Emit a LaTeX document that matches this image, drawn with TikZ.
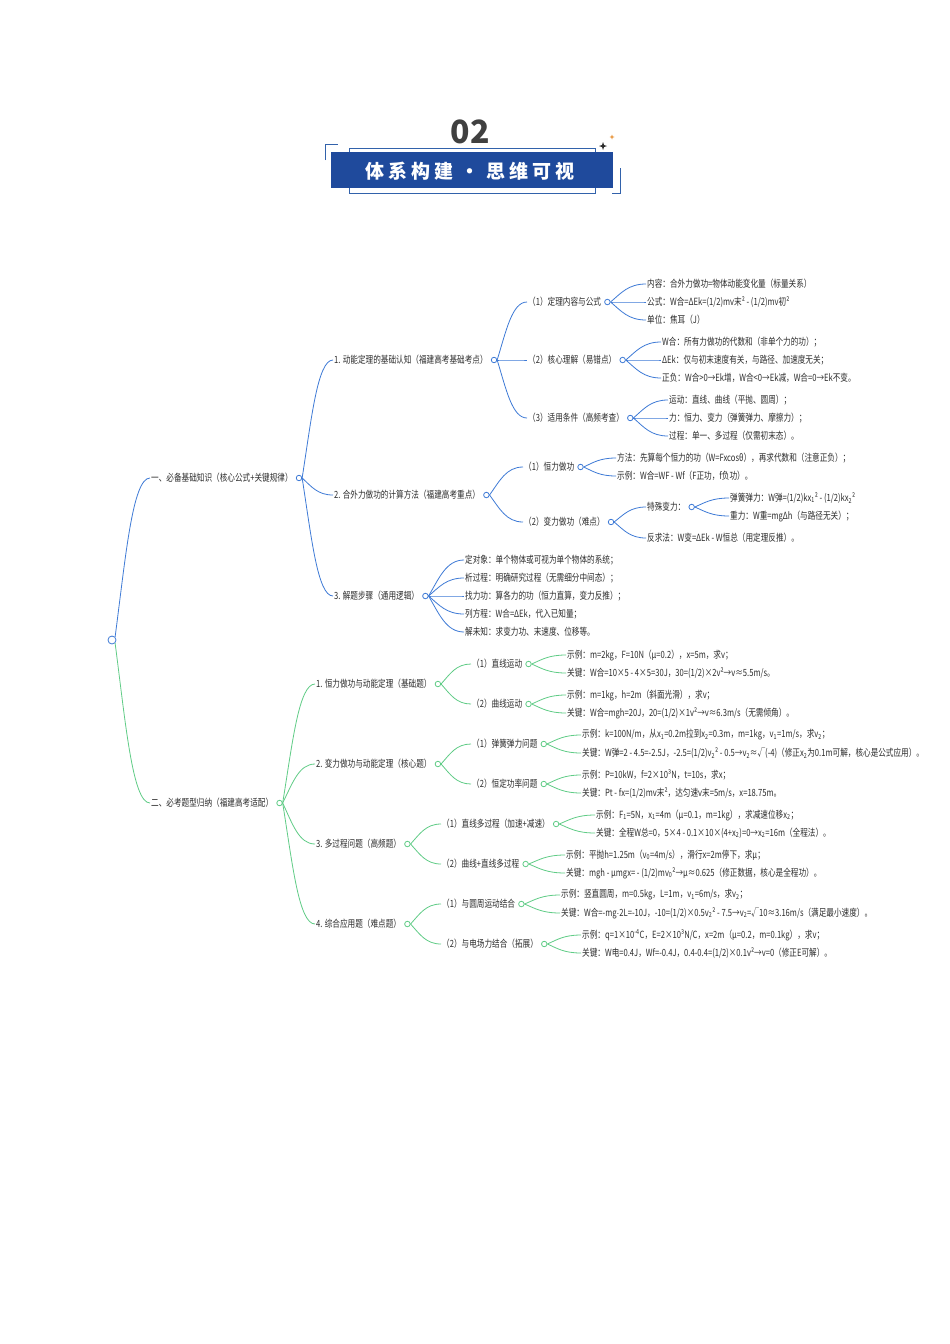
\documentclass[tikz,border=0pt]{standalone}
\usepackage{fontspec}
\setmainfont{Noto Sans CJK SC}[FakeStretch=0.77]
\newfontfamily\headfont{Noto Sans CJK SC}
\usetikzlibrary{positioning,calc}
\definecolor{mapblue}{RGB}{62,122,214}
\definecolor{mapgreen}{RGB}{96,204,134}
\definecolor{bannerblue}{RGB}{31,74,156}
\definecolor{inkgray}{RGB}{45,45,45}
\definecolor{numgray}{RGB}{64,64,64}
\definecolor{sparkorange}{RGB}{232,150,60}
\newcommand\tsub[1]{\textsubscript{#1}}
\newcommand\link[3]{\draw[#1] let \p1=(#2), \p2=(#3) in (\p1) .. controls ({\x1+0.3*(\x2-\x1)},{\y1+0.5*(\y2-\y1)}) and ({\x1+0.5*(\x2-\x1)},\y2) .. (\p2);}
\begin{document}
\begin{tikzpicture}[
  x=1pt, y=-1pt,
  txt/.style={anchor=west, inner sep=1pt, text=inkgray, font=\fontsize{9.9}{11}\selectfont},
  dot/.style={circle, fill=white, line width=0.8pt, inner sep=0pt, minimum size=5.5pt},
  bdot/.style={dot, draw=mapblue},
  gdot/.style={dot, draw=mapgreen},
  bl/.style={mapblue, line width=0.8pt},
  gr/.style={mapgreen, line width=0.8pt}
]
\useasboundingbox[fill=white] (0,0) rectangle (950,1344);

\node[anchor=base, text=numgray, font=\headfont\bfseries\fontsize{32}{34}\selectfont] (num) at (470,143) {02};
\draw[mapblue!80!black, line width=0.7pt] (349,148) rectangle (595,193);
\draw[mapblue!80!black, line width=0.7pt] (325,160) -- (325,144) -- (338,144);
\draw[mapblue!80!black, line width=0.7pt] (620,168) -- (620,193) -- (612,193);
\fill[bannerblue] (331,152) rectangle (613,188);
\node[text=white, font=\headfont\bfseries\fontsize{19}{21}\selectfont] (title) at (470,171)
  {体\hspace{4pt}系\hspace{4pt}构\hspace{4pt}建\hspace{7pt}·\hspace{7pt}思\hspace{4pt}维\hspace{4pt}可\hspace{4pt}视};
\fill[inkgray] (603,142) -- (604,145) -- (607,146) -- (604,147) -- (603,150) -- (602,147) -- (599,146) -- (602,145) -- cycle;
\fill[sparkorange] (612,134.5) -- (612.7,136.3) -- (614.5,137) -- (612.7,137.7) -- (612,139.5) -- (611.3,137.7) -- (609.5,137) -- (611.3,136.3) -- cycle;

\node[dot, draw=mapblue, minimum size=8pt] (root) at (112,640) {};

\node[txt] (know) at (150,478) {一、必备基础知识（核心公式+关键规律）};
\node[bdot, right=2pt of know] (know-o) {};
\node[txt] (exam) at (150,803) {二、必考题型归纳（福建高考适配）};
\node[gdot, right=2pt of exam] (exam-o) {};

\node[txt] (k1) at (333,360) {1. 动能定理的基础认知（福建高考基础考点）};
\node[bdot, right=2pt of k1] (k1-o) {};
\node[txt] (k2) at (333,495) {2. 合外力做功的计算方法（福建高考重点）};
\node[bdot, right=2pt of k2] (k2-o) {};
\node[txt] (k3) at (333,596) {3. 解题步骤（通用逻辑）};
\node[bdot, right=2pt of k3] (k3-o) {};

\node[txt] (k11) at (527,302) {（1）定理内容与公式};
\node[bdot, right=2pt of k11] (k11-o) {};
\node[txt] (k12) at (527,360) {（2）核心理解（易错点）};
\node[bdot, right=2pt of k12] (k12-o) {};
\node[txt] (k13) at (527,418) {（3）适用条件（高频考查）};
\node[bdot, right=2pt of k13] (k13-o) {};

\node[txt] (k11a) at (646,284) {内容：合外力做功=物体动能变化量（标量关系）};
\node[txt] (k11b) at (646,302) {公式：W合=ΔEk=(1/2)mv末² - (1/2)mv初²};
\node[txt] (k11c) at (646,320) {单位：焦耳（J）};
\node[txt] (k12a) at (661,342) {W合：所有力做功的代数和（非单个力的功）；};
\node[txt] (k12b) at (661,360) {ΔEk：仅与初末速度有关，与路径、加速度无关；};
\node[txt] (k12c) at (661,378) {正负：W合>0→Ek增，W合<0→Ek减，W合=0→Ek不变。};
\node[txt] (k13a) at (668,400) {运动：直线、曲线（平抛、圆周）；};
\node[txt] (k13b) at (668,418) {力：恒力、变力（弹簧弹力、摩擦力）；};
\node[txt] (k13c) at (668,436) {过程：单一、多过程（仅需初末态）。};

\node[txt] (k21) at (523,467) {（1）恒力做功};
\node[bdot, right=2pt of k21] (k21-o) {};
\node[txt] (k22) at (523,522) {（2）变力做功（难点）};
\node[bdot, right=2pt of k22] (k22-o) {};
\node[txt] (k21a) at (616,458) {方法：先算每个恒力的功（W=Fxcosθ），再求代数和（注意正负）；};
\node[txt] (k21b) at (616,476) {示例：W合=WF - Wf（F正功，f负功）。};
\node[txt] (k22a) at (646,507) {特殊变力：};
\node[bdot, right=2pt of k22a] (k22a-o) {};
\node[txt] (k22b) at (646,538) {反求法：W变=ΔEk - W恒总（用定理反推）。};
\node[txt] (spring) at (729,498) {弹簧弹力：W弹=(1/2)kx\tsub{1}² - (1/2)kx\tsub{2}²};
\node[txt] (grav) at (729,516) {重力：W重=mgΔh（与路径无关）；};

\node[txt] (k3a) at (464,560) {定对象：单个物体或可视为单个物体的系统；};
\node[txt] (k3b) at (464,578) {析过程：明确研究过程（无需细分中间态）；};
\node[txt] (k3c) at (464,596) {找力功：算各力的功（恒力直算，变力反推）；};
\node[txt] (k3d) at (464,614) {列方程：W合=ΔEk，代入已知量；};
\node[txt] (k3e) at (464,632) {解未知：求变力功、末速度、位移等。};

\node[txt] (g1) at (315,684) {1. 恒力做功与动能定理（基础题）};
\node[gdot, right=2pt of g1] (g1-o) {};
\node[txt] (g2) at (315,764) {2. 变力做功与动能定理（核心题）};
\node[gdot, right=2pt of g2] (g2-o) {};
\node[txt] (g3) at (315,844) {3. 多过程问题（高频题）};
\node[gdot, right=2pt of g3] (g3-o) {};
\node[txt] (g4) at (315,924) {4. 综合应用题（难点题）};
\node[gdot, right=2pt of g4] (g4-o) {};

\node[txt] (g11) at (471,664) {（1）直线运动};
\node[gdot, right=2pt of g11] (g11-o) {};
\node[txt] (g12) at (471,704) {（2）曲线运动};
\node[gdot, right=2pt of g12] (g12-o) {};
\node[txt] (g21) at (471,744) {（1）弹簧弹力问题};
\node[gdot, right=2pt of g21] (g21-o) {};
\node[txt] (g22) at (471,784) {（2）恒定功率问题};
\node[gdot, right=2pt of g22] (g22-o) {};
\node[txt] (g31) at (441,824) {（1）直线多过程（加速+减速）};
\node[gdot, right=2pt of g31] (g31-o) {};
\node[txt] (g32) at (441,864) {（2）曲线+直线多过程};
\node[gdot, right=2pt of g32] (g32-o) {};
\node[txt] (g41) at (441,904) {（1）与圆周运动结合};
\node[gdot, right=2pt of g41] (g41-o) {};
\node[txt] (g42) at (441,944) {（2）与电场力结合（拓展）};
\node[gdot, right=2pt of g42] (g42-o) {};

\node[txt] (g11a) at (566,655) {示例：m=2kg，F=10N（μ=0.2），x=5m，求v；};
\node[txt] (g11b) at (566,673) {关键：W合=10×5 - 4×5=30J，30=(1/2)×2v²→v≈5.5m/s。};
\node[txt] (g12a) at (566,695) {示例：m=1kg，h=2m（斜面光滑），求v；};
\node[txt] (g12b) at (566,713) {关键：W合=mgh=20J，20=(1/2)×1v²→v≈6.3m/s（无需倾角）。};
\node[txt] (g21a) at (581,735) {示例：k=100N/m，从x\tsub{1}=0.2m拉到x\tsub{2}=0.3m，m=1kg，v\tsub{1}=1m/s，求v\tsub{2}；};
\node[txt] (g21b) at (581,753) {关键：W弹=2 - 4.5=-2.5J，-2.5=(1/2)v\tsub{2}² - 0.5→v\tsub{2}≈√(-4)（修正x\tsub{2}为0.1m可解，核心是公式应用）。};
\node[txt] (g22a) at (581,775) {示例：P=10kW，f=2×10³N，t=10s，求x；};
\node[txt] (g22b) at (581,793) {关键：Pt - fx=(1/2)mv末²，达匀速v末=5m/s，x=18.75m。};
\node[txt] (g31a) at (595,815) {示例：F\tsub{1}=5N，x\tsub{1}=4m（μ=0.1，m=1kg），求减速位移x\tsub{2}；};
\node[txt] (g31b) at (595,833) {关键：全程W总=0，5×4 - 0.1×10×(4+x\tsub{2})=0→x\tsub{2}=16m（全程法）。};
\node[txt] (g32a) at (565,855) {示例：平抛h=1.25m（v\tsub{0}=4m/s），滑行x=2m停下，求μ；};
\node[txt] (g32b) at (565,873) {关键：mgh - μmgx= - (1/2)mv\tsub{0}²→μ≈0.625（修正数据，核心是全程功）。};
\node[txt] (g41a) at (560,895) {示例：竖直圆周，m=0.5kg，L=1m，v\tsub{1}=6m/s，求v\tsub{2}；};
\node[txt] (g41b) at (560,913) {关键：W合=-mg$\cdot$2L=-10J，-10=(1/2)×0.5v\tsub{2}² - 7.5→v\tsub{2}=√10≈3.16m/s（满足最小速度）。};
\node[txt] (g42a) at (581,935) {示例：q=1×10\textsuperscript{-4}C，E=2×10³N/C，x=2m（μ=0.2，m=0.1kg），求v；};
\node[txt] (g42b) at (581,953) {关键：W电=0.4J，Wf=-0.4J，0.4-0.4=(1/2)×0.1v²→v=0（修正E可解）。};

\link{bl}{root.north east}{know.west}
\link{gr}{root.south east}{exam.west}
\foreach \c in {k1,k2,k3} {\link{bl}{know-o.east}{\c.west}}
\foreach \c in {k11,k12,k13} {\link{bl}{k1-o.east}{\c.west}}
\foreach \c in {k11a,k11b,k11c} {\link{bl}{k11-o.east}{\c.west}}
\foreach \c in {k12a,k12b,k12c} {\link{bl}{k12-o.east}{\c.west}}
\foreach \c in {k13a,k13b,k13c} {\link{bl}{k13-o.east}{\c.west}}
\foreach \c in {k21,k22} {\link{bl}{k2-o.east}{\c.west}}
\foreach \c in {k21a,k21b} {\link{bl}{k21-o.east}{\c.west}}
\foreach \c in {k22a,k22b} {\link{bl}{k22-o.east}{\c.west}}
\foreach \c in {spring,grav} {\link{bl}{k22a-o.east}{\c.west}}
\foreach \c in {k3a,k3b,k3c,k3d,k3e} {\link{bl}{k3-o.east}{\c.west}}
\foreach \c in {g1,g2,g3,g4} {\link{gr}{exam-o.east}{\c.west}}
\foreach \c in {g11,g12} {\link{gr}{g1-o.east}{\c.west}}
\foreach \c in {g21,g22} {\link{gr}{g2-o.east}{\c.west}}
\foreach \c in {g31,g32} {\link{gr}{g3-o.east}{\c.west}}
\foreach \c in {g41,g42} {\link{gr}{g4-o.east}{\c.west}}
\foreach \c in {g11a,g11b} {\link{gr}{g11-o.east}{\c.west}}
\foreach \c in {g12a,g12b} {\link{gr}{g12-o.east}{\c.west}}
\foreach \c in {g21a,g21b} {\link{gr}{g21-o.east}{\c.west}}
\foreach \c in {g22a,g22b} {\link{gr}{g22-o.east}{\c.west}}
\foreach \c in {g31a,g31b} {\link{gr}{g31-o.east}{\c.west}}
\foreach \c in {g32a,g32b} {\link{gr}{g32-o.east}{\c.west}}
\foreach \c in {g41a,g41b} {\link{gr}{g41-o.east}{\c.west}}
\foreach \c in {g42a,g42b} {\link{gr}{g42-o.east}{\c.west}}
\end{tikzpicture}
\end{document}
